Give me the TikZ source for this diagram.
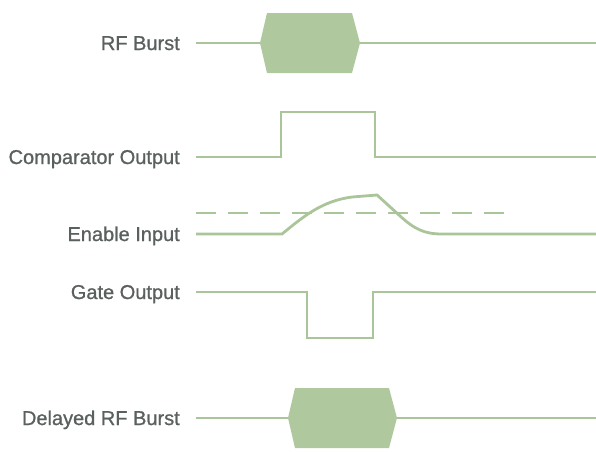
\documentclass[tikz,border=0pt]{standalone}
\usepackage{fontspec}
\setmainfont{Liberation Sans}
\newfontfamily\lblfont[BoldFont={Liberation Sans}, BoldFeatures={FakeBold=0.9}]{Liberation Sans}

\definecolor{wavegreen}{HTML}{ABC59B}
\definecolor{burstgreen}{HTML}{B0C89E}
\definecolor{labelgray}{HTML}{5A605E}

\begin{document}
\begin{tikzpicture}[x=1pt, y=-1pt,
  wave/.style={draw=wavegreen, line width=2.8pt, line join=miter},
  burst/.style={fill=burstgreen},
  lbl/.style={anchor=base east, text=labelgray, inner sep=0pt,
    font=\lblfont\bfseries\fontsize{20}{23}\selectfont}]

\useasboundingbox (0,0) rectangle (596,451);

% Parameters
\def\lx{180}    % right edge of labels
\def\sx{196}    % start of signal lines
\def\ex{596}    % end of signal lines
\def\yrf{43}    % RF burst
\def\ycmp{157}  % comparator output
\def\yen{234}   % enable input
\def\ygate{292} % gate output
\def\ydel{418}  % delayed RF burst

% Labels
\node[lbl] (rf)   at (\lx,\yrf+7)   {RF Burst};
\node[lbl] (cmp)  at (\lx,\ycmp+7)  {Comparator Output};
\node[lbl] (en)   at (\lx,\yen+7)   {Enable Input};
\node[lbl] (gate) at (\lx,\ygate+7) {Gate Output};
\node[lbl] (del)  at (\lx,\ydel+7)  {Delayed RF Burst};

% RF burst
\draw[wave] (\sx,\yrf) -- (262,\yrf);
\draw[wave] (358,\yrf) -- (\ex,\yrf);
\fill[burst] (260,\yrf) -- (267,\yrf-30) -- (352,\yrf-30) -- (360,\yrf)
  -- (352,\yrf+30) -- (267,\yrf+30) -- cycle;

% Comparator output: high pulse
\draw[wave] (\sx,\ycmp) -- (281,\ycmp) -- (281,112) -- (375,112)
  -- (375,\ycmp) -- (\ex,\ycmp);

% Enable input with threshold (dashed)
\draw[wavegreen, line width=2.8pt, dash pattern=on 20pt off 12pt]
  (\sx,213) -- (508,213);
\draw[wave] (\sx,\yen) -- (282,\yen)
  .. controls (304,216) and (322,201) .. (352,197) -- (377,195)
  -- (399,215) .. controls (414,229) and (424,\yen) .. (442,\yen)
  -- (\ex,\yen);

% Gate output: low pulse
\draw[wave] (\sx,\ygate) -- (307,\ygate) -- (307,338) -- (373,338)
  -- (373,\ygate) -- (\ex,\ygate);

% Delayed RF burst
\draw[wave] (\sx,\ydel) -- (290,\ydel);
\draw[wave] (395,\ydel) -- (\ex,\ydel);
\fill[burst] (288,\ydel) -- (295,\ydel-30) -- (389,\ydel-30) -- (397,\ydel)
  -- (389,\ydel+30) -- (295,\ydel+30) -- cycle;

\end{tikzpicture}
\end{document}
